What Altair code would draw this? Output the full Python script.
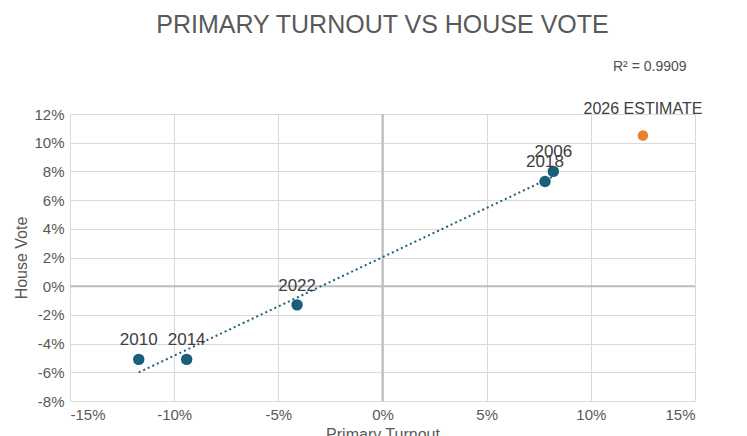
import altair as alt
import pandas as pd

years = ["2010", "2014", "2022", "2018", "2006"]
turnout = [-0.117, -0.094, -0.041, 0.078, 0.082]
house = [-0.051, -0.051, -0.013, 0.073, 0.080]
est_x, est_y = [0.125], [0.105]

hist = pd.DataFrame({"year": years, "x": turnout, "y": house})
est = pd.DataFrame({"year": ["2026 ESTIMATE"], "x": est_x, "y": est_y})
zero = pd.DataFrame({"v": [0]})

minus = "replace(format(datum.value, '.0%'), '\u2212', '-')"
xs = alt.Scale(domain=[-0.15, 0.15])
ys = alt.Scale(domain=[-0.08, 0.12])
X = alt.X("x:Q", scale=xs, title="Primary Turnout",
          axis=alt.Axis(labelExpr=minus, values=[-0.15, -0.1, -0.05, 0, 0.05, 0.1, 0.15]))
Y = alt.Y("y:Q", scale=ys, title="House Vote",
          axis=alt.Axis(labelExpr=minus, tickCount=10))

base = alt.Chart(hist)
trend = base.transform_regression("x", "y").mark_line(
    color="#1f5f7a", strokeDash=[2, 3], strokeWidth=2).encode(x=X, y=Y)
vzero = alt.Chart(zero).mark_rule(color="#bdbdbd", strokeWidth=2).encode(x=alt.X("v:Q", scale=xs))
hzero = alt.Chart(zero).mark_rule(color="#bdbdbd", strokeWidth=2).encode(y=alt.Y("v:Q", scale=ys))
pts = base.mark_circle(size=130, opacity=1, color="#1a5f7a").encode(x=X, y=Y)
lab = base.mark_text(fontSize=17, dy=-19, color="#404040", font="Liberation Sans").encode(
    x=X, y=Y, text="year:N")
ept = alt.Chart(est).mark_circle(size=110, opacity=1, color="#ed7d31").encode(x=X, y=Y)
elab = alt.Chart(est).mark_text(fontSize=16, dy=-27, color="#404040", font="Liberation Sans").encode(
    x=X, y=Y, text="year:N")
r2 = alt.Chart(zero).mark_text(text="R² = 0.9909", fontSize=14, color="#505050",
                               font="Liberation Sans", align="left").encode(
    x=alt.value(543), y=alt.value(-47))

chart = alt.layer(vzero, hzero, trend, pts, lab, ept, elab, r2).properties(
    width=625, height=287,
    title=alt.TitleParams("PRIMARY TURNOUT VS HOUSE VOTE", fontSize=25, fontWeight="normal",
                          color="#595959", font="Liberation Sans", offset=22, anchor="middle"),
).configure_axis(
    gridColor="#d9d9d9", domain=False, ticks=False, labelFontSize=15, titleFontSize=16,
    labelColor="#595959", titleColor="#595959", titleFontWeight="normal",
    labelFont="Liberation Sans", titleFont="Liberation Sans", labelPadding=6
).configure_view(stroke=None)

chart.save("out.html", embed_options={"renderer": "svg", "actions": False})
